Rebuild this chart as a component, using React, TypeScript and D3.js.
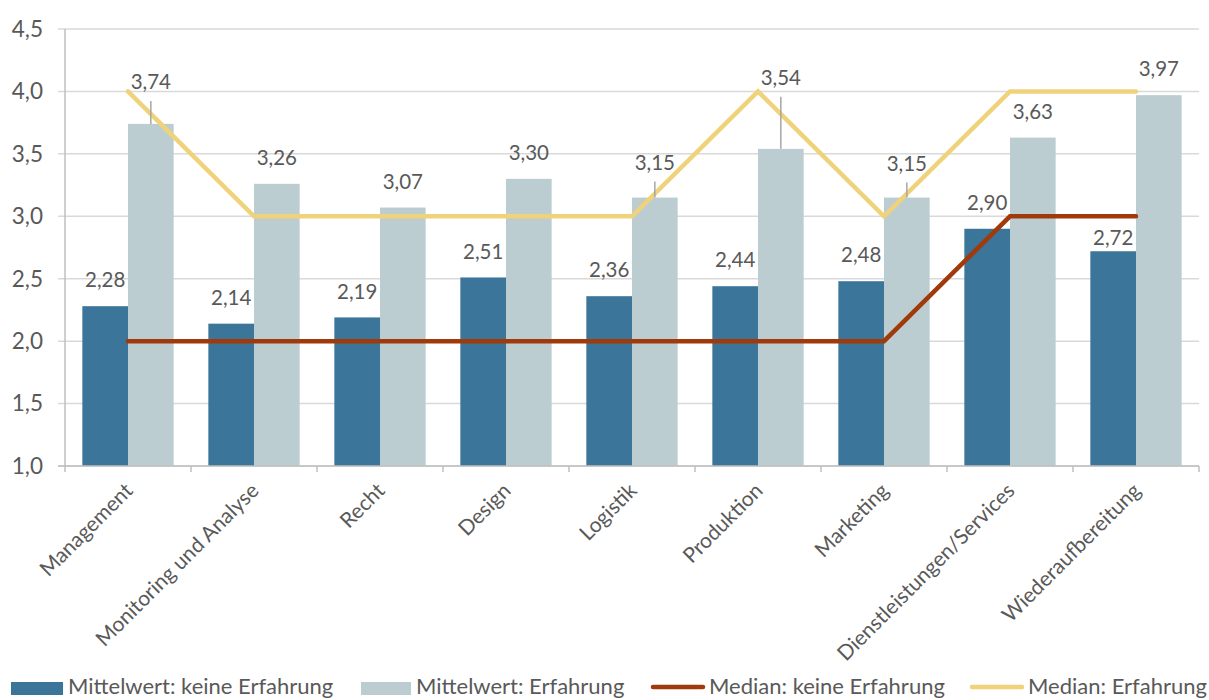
import React, { useRef, useEffect } from 'react';
import * as d3 from 'd3';

const categories = [
  'Management',
  'Monitoring und Analyse',
  'Recht',
  'Design',
  'Logistik',
  'Produktion',
  'Marketing',
  'Dienstleistungen/Services',
  'Wiederaufbereitung',
];
const meanNoExp = [2.28, 2.14, 2.19, 2.51, 2.36, 2.44, 2.48, 2.9, 2.72];
const meanExp = [3.74, 3.26, 3.07, 3.3, 3.15, 3.54, 3.15, 3.63, 3.97];
const medianNoExp = [2, 2, 2, 2, 2, 2, 2, 3, 3];
const medianExp = [4, 3, 3, 3, 3, 4, 3, 4, 4];
const yTicks = [1.0, 1.5, 2.0, 2.5, 3.0, 3.5, 4.0, 4.5];
const legendLabels = [
  'Mittelwert: keine Erfahrung',
  'Mittelwert: Erfahrung',
  'Median: keine Erfahrung',
  'Median: Erfahrung',
];

// extra upward shift (px) of some data labels, with leader line
const shiftExp: Record<string, number> = { Management: 16, Logistik: 9, Produktion: 45, Marketing: 8 };
const shiftNoExp: Record<string, number> = { Wiederaufbereitung: -13 };

const W = 1209;
const H = 700;
const FONT = 'Lato, "Open Sans", sans-serif';
const TEXT = '#595959';

const App = () => {
  const svgRef = useRef<SVGSVGElement>(null);

  useEffect(() => {
    document.body.style.margin = '0';
    const svg = d3.select(svgRef.current);
    svg.selectAll('*').remove();

    const margin = { left: 65, right: 10, top: 29, bottom: 234 };
    const x = d3.scaleBand().domain(categories).range([margin.left, W - margin.right]);
    const y = d3.scaleLinear().domain([1, 4.5]).range([H - margin.bottom, margin.top]);
    const inner = d3.scaleBand().domain(['a', 'b']).range([0, x.bandwidth()]).paddingInner(0).paddingOuter(0.38);

    const g = svg.append('g');

    // gridlines
    g.selectAll('.grid')
      .data(yTicks)
      .enter()
      .append('line')
      .attr('x1', margin.left - 7)
      .attr('x2', W - margin.right)
      .attr('y1', d => y(d))
      .attr('y2', d => y(d))
      .attr('stroke', '#d9d9d9')
      .attr('stroke-width', 1.5);

    // y tick labels
    g.selectAll('.ytl')
      .data(yTicks)
      .enter()
      .append('text')
      .attr('x', margin.left - 22)
      .attr('y', d => y(d))
      .attr('dy', '0.35em')
      .attr('text-anchor', 'end')
      .attr('font-family', FONT)
      .attr('font-size', 22.5)
      .attr('fill', TEXT)
      .text(d => d.toFixed(1).replace('.', ','));

    // bars
    const series = [
      { key: 'a', values: meanNoExp, color: '#3b7599' },
      { key: 'b', values: meanExp, color: '#bccdd2' },
    ];
    series.forEach(s => {
      g.selectAll('.bar-' + s.key)
        .data(categories)
        .enter()
        .append('rect')
        .attr('x', c => (x(c) as number) + (inner(s.key) as number))
        .attr('width', inner.bandwidth())
        .attr('y', (c, i) => y(s.values[i]))
        .attr('height', (c, i) => y(1) - y(s.values[i]))
        .attr('fill', s.color);
    });

    // axes
    g.append('line')
      .attr('x1', margin.left).attr('x2', margin.left)
      .attr('y1', margin.top).attr('y2', y(1) + 6)
      .attr('stroke', '#bfbfbf').attr('stroke-width', 1.5);
    g.append('line')
      .attr('x1', margin.left - 7).attr('x2', W - margin.right)
      .attr('y1', y(1)).attr('y2', y(1))
      .attr('stroke', '#bfbfbf').attr('stroke-width', 1.5);
    const bounds = categories.map(c => (x(c) as number) + x.bandwidth());
    g.selectAll('.xt')
      .data(bounds)
      .enter()
      .append('line')
      .attr('x1', d => d).attr('x2', d => d)
      .attr('y1', y(1)).attr('y2', y(1) + 6)
      .attr('stroke', '#bfbfbf').attr('stroke-width', 1.5);

    // x labels
    g.selectAll('.xl')
      .data(categories)
      .enter()
      .append('text')
      .attr('transform', c => `translate(${(x(c) as number) + x.bandwidth() / 2 + 6},${y(1) + 26}) rotate(-45)`)
      .attr('text-anchor', 'end')
      .attr('font-family', FONT)
      .attr('font-size', 21)
      .attr('fill', TEXT)
      .text(c => c);

    // median lines
    const cx = (c: string) => (x(c) as number) + x.bandwidth() / 2;
    const lineGen = d3.line<number>().x((d, i) => cx(categories[i])).y(d => y(d));
    [
      { values: medianNoExp, color: '#a03a0b' },
      { values: medianExp, color: '#efd27a' },
    ].forEach(m => {
      g.append('path')
        .attr('d', lineGen(m.values))
        .attr('fill', 'none')
        .attr('stroke', m.color)
        .attr('stroke-width', 4.5)
        .attr('stroke-linecap', 'round')
        .attr('stroke-linejoin', 'miter');
    });

    // data labels
    const labelSets = [
      { key: 'a', values: meanNoExp, shift: shiftNoExp },
      { key: 'b', values: meanExp, shift: shiftExp },
    ];
    labelSets.forEach(s => {
      categories.forEach((c, i) => {
        const bx = (x(c) as number) + (inner(s.key) as number) + inner.bandwidth() / 2;
        const top = y(s.values[i]);
        const sh = s.shift[c] || 0;
        const ly = top - 26 - sh;
        if (sh > 0) {
          g.append('line')
            .attr('x1', bx).attr('x2', bx)
            .attr('y1', ly + 19).attr('y2', top)
            .attr('stroke', '#a6a6a6').attr('stroke-width', 1.5);
        }
        g.append('text')
          .attr('x', bx)
          .attr('y', ly)
          .attr('dy', '0.35em')
          .attr('text-anchor', 'middle')
          .attr('font-family', FONT)
          .attr('font-size', 20.5)
          .attr('fill', TEXT)
          .text(s.values[i].toFixed(2).replace('.', ','));
      });
    });

    // legend
    const legBase = 694;
    const legendItems = [
      { type: 'rect', color: '#3b7599', x0: 11, x1: 63, tx: 68 },
      { type: 'rect', color: '#bccdd2', x0: 361, x1: 411, tx: 416 },
      { type: 'line', color: '#a03a0b', x0: 653, x1: 703, tx: 709 },
      { type: 'line', color: '#efd27a', x0: 972, x1: 1022, tx: 1028 },
    ];
    legendItems.forEach((it, i) => {
      if (it.type === 'rect') {
        svg.append('rect')
          .attr('x', it.x0).attr('y', 682)
          .attr('width', it.x1 - it.x0).attr('height', 13)
          .attr('fill', it.color);
      } else {
        svg.append('line')
          .attr('x1', it.x0).attr('x2', it.x1)
          .attr('y1', 687).attr('y2', 687)
          .attr('stroke', it.color).attr('stroke-width', 4.5)
          .attr('stroke-linecap', 'round');
      }
      svg.append('text')
        .attr('x', it.tx)
        .attr('y', legBase)
        .attr('font-family', FONT)
        .attr('font-size', 22)
        .attr('fill', TEXT)
        .text(legendLabels[i]);
    });
  }, []);

  return <svg ref={svgRef} width={W} height={H} style={{ display: 'block' }} />;
};

export default App;
